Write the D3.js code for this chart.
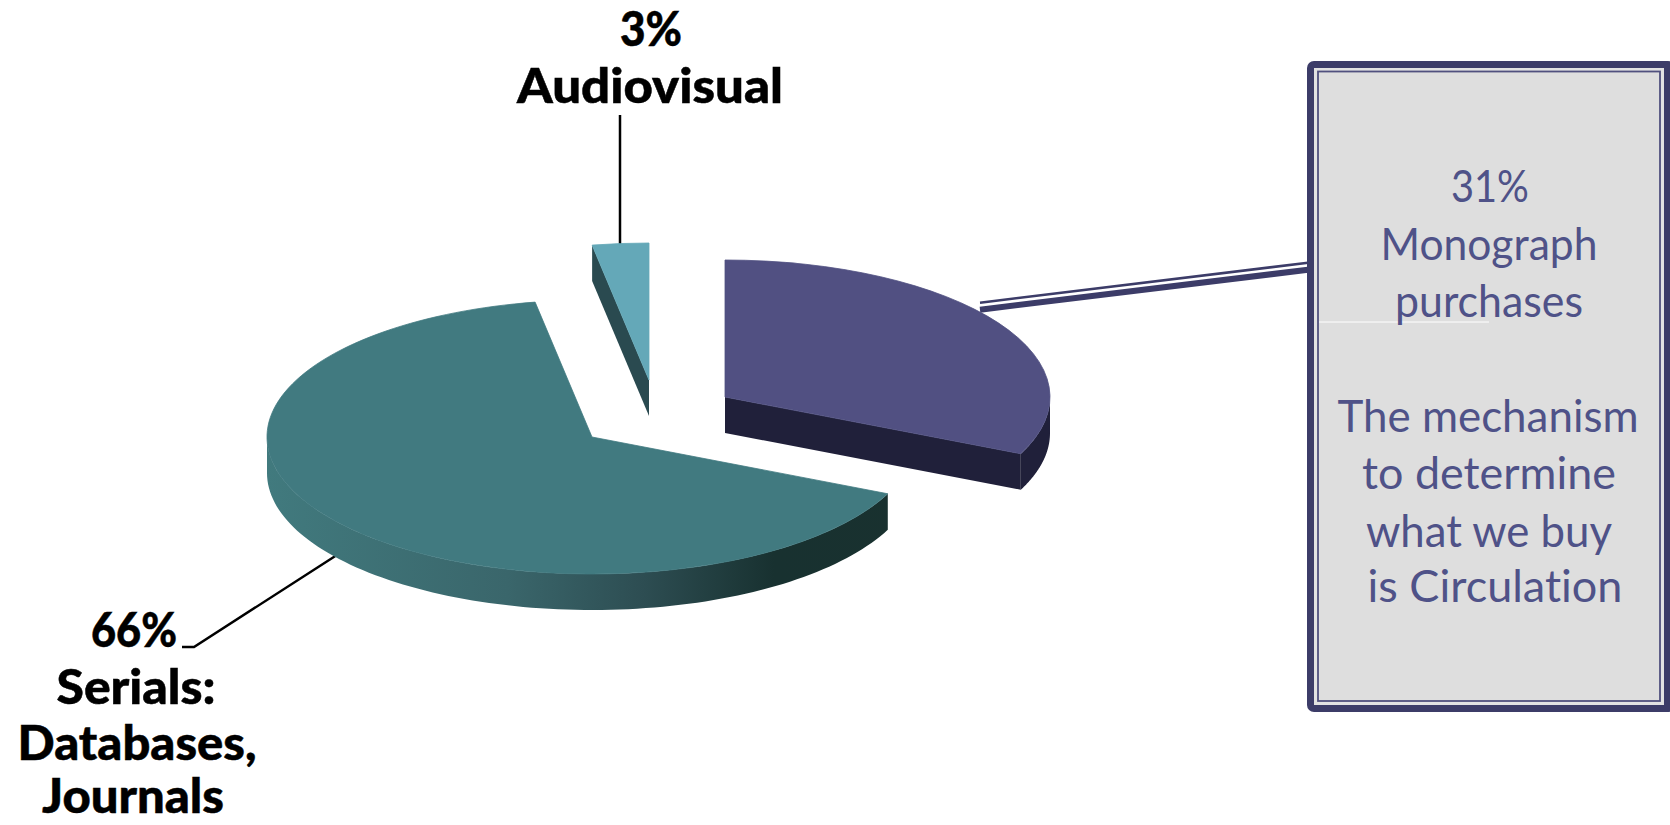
<!DOCTYPE html>
<html>
<head>
<meta charset="utf-8">
<script src="https://cdn.jsdelivr.net/npm/d3@7"></script>
<style>
  html, body { margin: 0; padding: 0; background: #fff; }
  svg { display: block; }
  text { font-family: Lato, "Open Sans", sans-serif; text-anchor: middle; font-variant-ligatures: none; }
  .label { font-weight: 900; fill: #000; stroke: #000; stroke-width: 0.5; }
  .note { font-weight: 400; fill: #4f5288; }
</style>
</head>
<body>
<div id="chart"></div>
<script>
// Slice sizes as drawn in the picture (printed labels are rounded differently)
const sliceNames = ['Monograph purchases', 'Serials', 'Audiovisual'];
const sliceValues = [31.8, 65.4, 2.8];

// Text of the labels, one entry per line
const audiovisualLines = ['3%', 'Audiovisual'];
const serialsLines = ['66%', 'Serials:', 'Databases,', 'Journals'];
const noteLines = ['31%', 'Monograph', 'purchases', 'The mechanism', 'to determine', 'what we buy', 'is Circulation'];

const width = 1670;
const height = 825;
const rx = 325;
const ry = 137;
const depth = 36;

// Each slice is pulled out of the pie, so each has its own centre
const centers = [{x: 725, y: 397}, {x: 592, y: 437}, {x: 649, y: 380}];
const topColors = ['#515082', '#417a80', '#64a8b8'];
const sideColors = ['#20203a', 'url(#serialsSide)', '#2a4a50'];

const svg = d3.select('#chart').append('svg')
    .attr('width', width)
    .attr('height', height);

const grad = svg.append('defs').append('linearGradient')
    .attr('id', 'serialsSide')
    .attr('gradientUnits', 'userSpaceOnUse')
    .attr('x1', 267).attr('x2', 917).attr('y1', 0).attr('y2', 0);
[[0, '#417a7e'], [0.37, '#3a666b'], [0.58, '#2d4d52'], [0.78, '#183130'], [1, '#19312f']].forEach((s) => {
  grad.append('stop').attr('offset', s[0]).attr('stop-color', s[1]);
});

const ink = '#3c3c68';

// leader lines go under the pie
const leader = d3.line();
svg.append('path')
    .attr('d', leader([[620, 115], [620, 246]]))
    .attr('fill', 'none').attr('stroke', '#000').attr('stroke-width', 2.5);
svg.append('path')
    .attr('d', leader([[182, 647], [194, 647], [340, 553]]))
    .attr('fill', 'none').attr('stroke', '#000').attr('stroke-width', 2.5);

// double line from the monograph slice to the box
svg.append('path')
    .attr('d', leader([[980, 302.7], [1310, 262.5]]))
    .attr('fill', 'none').attr('stroke', ink).attr('stroke-width', 2.5);
svg.append('path')
    .attr('d', leader([[980, 309.7], [1310, 269.5]]))
    .attr('fill', 'none').attr('stroke', ink).attr('stroke-width', 6);

const pie = d3.pie().sort(null)(sliceValues);
const arc = d3.arc().innerRadius(0).outerRadius(rx);

const rim = (c, a) => [c.x + rx * Math.sin(a), c.y - ry * Math.cos(a)];

const walls = svg.append('g').attr('class', 'walls');

pie.forEach((d, i) => {
  const c = centers[i];

  // flat side along a cut edge, only when it faces the viewer
  [[d.startAngle, d.startAngle - Math.PI / 2], [d.endAngle, d.endAngle + Math.PI / 2]].forEach((edge) => {
    if (Math.cos(edge[1]) < -0.01) {
      const p = rim(c, edge[0]);
      walls.append('path')
          .attr('d', leader([[c.x, c.y], p, [p[0], p[1] + depth], [c.x, c.y + depth]]) + 'Z')
          .attr('fill', sideColors[i]);
    }
  });

  // curved side, front half of the ellipse only
  const a0 = Math.max(d.startAngle, Math.PI / 2);
  const a1 = Math.min(d.endAngle, 3 * Math.PI / 2);
  if (a1 > a0) {
    const steps = d3.range(0, 101).map((t) => a0 + (a1 - a0) * t / 100);
    const top = steps.map((a) => rim(c, a));
    const bottom = top.map((p) => [p[0], p[1] + depth]).reverse();
    walls.append('path')
        .attr('d', leader(top.concat(bottom)) + 'Z')
        .attr('fill', sideColors[i]);
  }
});

// thin stroke of the same colour hides the seam against the walls
svg.append('g').attr('class', 'tops')
  .selectAll('path')
  .data(pie)
  .join('path')
    .attr('transform', (d, i) => 'translate(' + centers[i].x + ',' + centers[i].y + ') scale(1,' + (ry / rx) + ')')
    .attr('d', arc)
    .attr('fill', (d, i) => topColors[i])
    .attr('stroke', (d, i) => topColors[i])
    .attr('stroke-width', 0.8)
    .attr('vector-effect', 'non-scaling-stroke');

// lengths are the line widths measured on the picture
const addLines = (lines, cls, size, xs, ys, lengths) => {
  svg.append('g')
    .selectAll('text')
    .data(lines)
    .join('text')
      .attr('class', cls)
      .attr('font-size', size)
      .attr('x', (d, i) => xs[i])
      .attr('y', (d, i) => ys[i])
      .attr('textLength', (d, i) => lengths[i])
      .attr('lengthAdjust', 'spacingAndGlyphs')
      .text((d) => d);
};

addLines(audiovisualLines, 'label', 47, [651, 650], [46, 103], [62, 266]);
addLines(serialsLines, 'label', 47, [134, 136, 137, 133], [647, 704, 760, 813], [86, 159, 239, 182]);

// Box on the right
svg.append('rect')
    .attr('x', 1307).attr('y', 61).attr('width', 368).attr('height', 651).attr('rx', 7)
    .attr('fill', ink);
svg.append('rect')
    .attr('x', 1314).attr('y', 68).attr('width', 350).attr('height', 637)
    .attr('fill', '#e2e2e2');
svg.append('rect')
    .attr('x', 1318).attr('y', 71.5).attr('width', 342).attr('height', 629.5)
    .attr('fill', '#dedede').attr('stroke', '#50507e').attr('stroke-width', 1.8);
svg.append('line')
    .attr('x1', 1319).attr('x2', 1489).attr('y1', 322).attr('y2', 322)
    .attr('stroke', '#fff').attr('stroke-width', 1);

addLines(noteLines, 'note', 44,
  [1490, 1489, 1489, 1488, 1489, 1489, 1495],
  [201.5, 260, 317, 432, 489, 547, 601.5],
  [78, 217, 188, 301, 254, 246, 255]);
</script>
</body>
</html>
